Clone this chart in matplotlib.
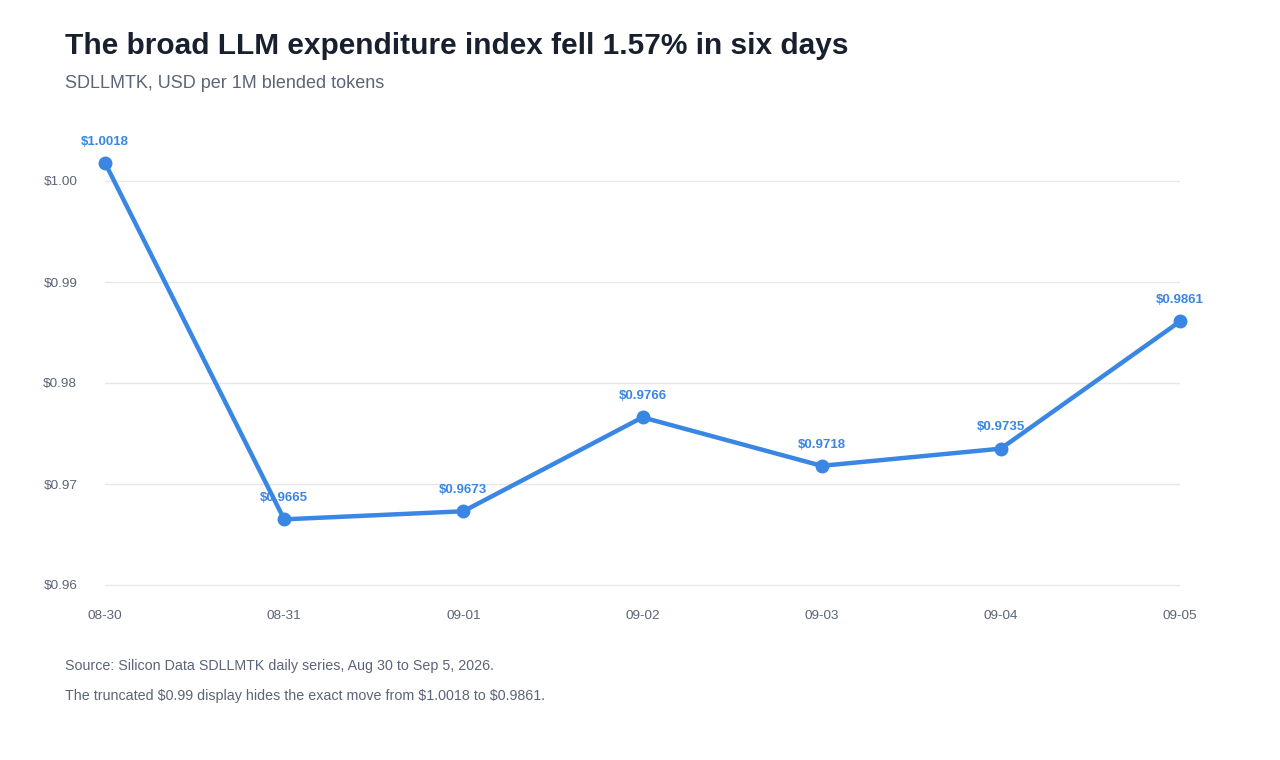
import matplotlib.pyplot as plt
from matplotlib.ticker import FuncFormatter

dates = ["08-30", "08-31", "09-01", "09-02", "09-03", "09-04", "09-05"]
index_values = [1.0018, 0.9665, 0.9673, 0.9766, 0.9718, 0.9735, 0.9861]
y_ticks = [0.96, 0.97, 0.98, 0.99, 1.00]

title = "The broad LLM expenditure index fell 1.57% in six days"
subtitle = "SDLLMTK, USD per 1M blended tokens"
notes = [
    "Source: Silicon Data SDLLMTK daily series, Aug 30 to Sep 5, 2026.",
    "The truncated $0.99 display hides the exact move from $1.0018 to $0.9861.",
]

BLUE = "#3a86e3"
GREY = "#5b6577"

plt.rcParams["font.family"] = ["Liberation Sans", "DejaVu Sans"]

W, H = 1280, 760
fig = plt.figure(figsize=(W / 100, H / 100), dpi=100)

# axes placed in pixel terms: x 105..1180, 0.96 at 585px, 1.00 at 181px
y_lo, y_hi = 0.959, 1.003
px_per_unit = (585 - 181) / 0.04
bot_px = 585 + (0.96 - y_lo) * px_per_unit
top_px = 585 - (y_hi - 0.96) * px_per_unit
ax = fig.add_axes([105 / W, (H - bot_px) / H, (1180 - 105) / W, (bot_px - top_px) / H])

x = list(range(len(dates)))
ax.plot(x, index_values, color=BLUE, lw=3.2, marker="o", ms=9, zorder=3,
        solid_capstyle="round", solid_joinstyle="round", clip_on=False)

for xi, v in zip(x, index_values):
    ax.annotate(f"${v:.4f}", (xi, v), xytext=(0, 11), textcoords="offset points",
                ha="center", va="bottom", color=BLUE, fontsize=9.5, fontweight="bold")

ax.set_xlim(0, len(dates) - 1)
ax.set_ylim(y_lo, y_hi)
ax.set_xticks(x)
ax.set_xticklabels(dates)
ax.set_yticks(y_ticks)
ax.yaxis.set_major_formatter(FuncFormatter(lambda v, _: f"${v:.2f}"))
ax.grid(axis="y", color="#e6e7ea", lw=1)
ax.set_axisbelow(True)
for s in ax.spines.values():
    s.set_visible(False)
ax.tick_params(length=0, colors=GREY, labelsize=9.7)
ax.tick_params(axis="x", pad=18 - (bot_px - 585) * 0.72)
ax.tick_params(axis="y", pad=20)

fig.text(65 / W, 1 - 46 / H, title, fontsize=21.5, fontweight="bold", color="#18202f", va="center")
fig.text(65 / W, 1 - 83 / H, subtitle, fontsize=13, color=GREY, va="center")
fig.text(65 / W, 1 - 666 / H, notes[0], fontsize=10.25, color=GREY, va="center")
fig.text(65 / W, 1 - 696 / H, notes[1], fontsize=10.25, color=GREY, va="center")

fig.savefig("out.png", dpi=100, facecolor="white")
